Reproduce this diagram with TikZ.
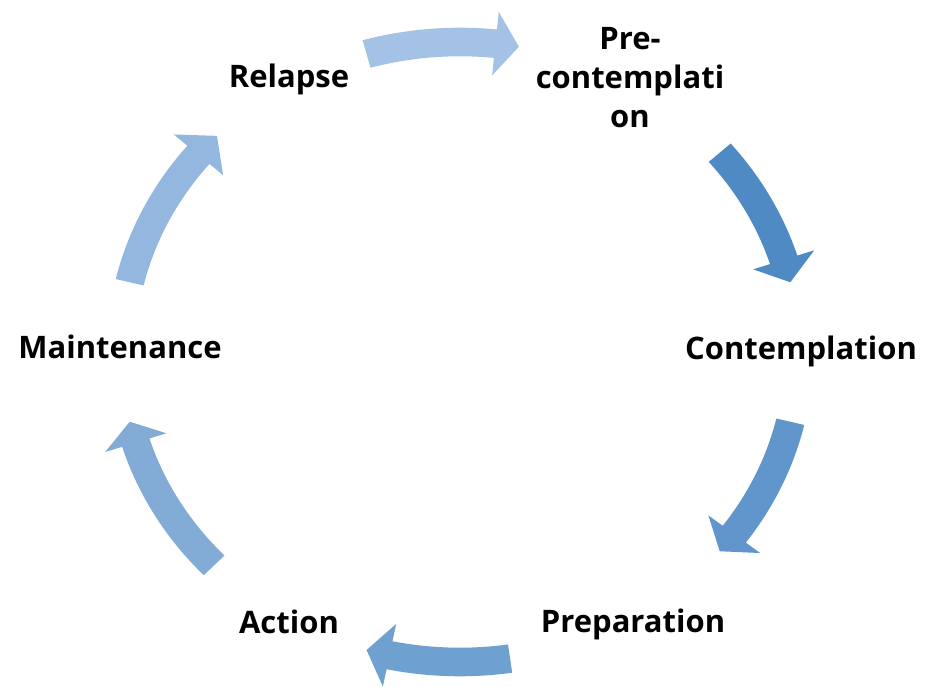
\documentclass[tikz,border=0pt]{standalone}
\usepackage{fontspec}
\setmainfont{Open Sans}
\definecolor{arA}{HTML}{A4C2E5}
\definecolor{arB}{HTML}{508AC4}
\definecolor{arC}{HTML}{6096CB}
\definecolor{arD}{HTML}{6EA0D0}
\definecolor{arE}{HTML}{82ACD6}
\definecolor{arF}{HTML}{93B7DE}
\newcommand\cycarrow[4]{%
  \fill[#1] (#2:353.3pt and 324.3pt)
    arc[start angle=#2, end angle=#3, x radius=353.3pt, y radius=324.3pt]
    -- (#3:371pt and 342pt) -- (#4:339pt and 310pt) -- (#3:307pt and 278pt)
    -- (#3:324.7pt and 295.7pt)
    arc[start angle=#3, end angle=#2, x radius=324.7pt, y radius=295.7pt]
    -- cycle;}
\begin{document}
\begin{tikzpicture}[x=1pt,y=1pt,
  lbl/.style={font=\bfseries\fontsize{31}{39}\selectfont, inner sep=0pt, anchor=base, align=center}]
\useasboundingbox[fill=white] (0,0) rectangle (925,687);
\begin{scope}[shift={(460,335)}]
  \cycarrow{arA}{106}{84}{80}
  \cycarrow{arB}{40}{17.3}{13}
  \cycarrow{arC}{-13}{-36}{-40}
  \cycarrow{arD}{-81.5}{-102}{-106}
  \cycarrow{arE}{-136.5}{-163}{-167}
  \cycarrow{arF}{167}{140.5}{135.8}
\end{scope}
\node[lbl] (relapse) at (289,599) {Relapse};
\node[lbl] (pre) at (630,559) {Pre-\\contemplati\\on};
\node[lbl] (contemp) at (801,327) {Contemplation};
\node[lbl] (maint) at (120,328) {Maintenance};
\node[lbl] (action) at (289,53) {Action};
\node[lbl] (prep) at (633,54) {Preparation};
\end{tikzpicture}
\end{document}
